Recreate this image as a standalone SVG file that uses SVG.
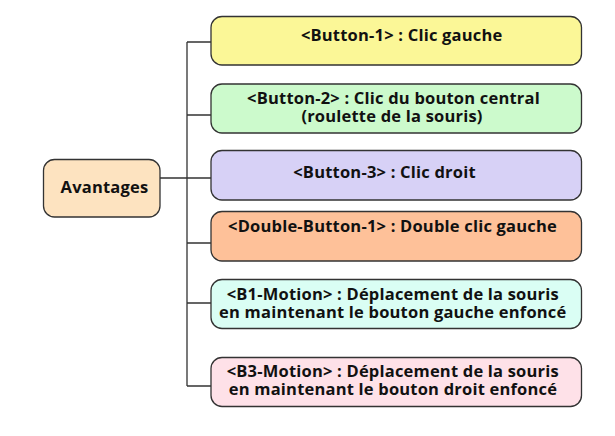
<svg xmlns="http://www.w3.org/2000/svg" width="615" height="436" viewBox="0 0 615 436">
<style>
.box{stroke:#333333;stroke-width:1.3}
.t{font-family:"Open Sans","Noto Sans","DejaVu Sans",sans-serif;font-weight:bold;font-size:16.5px;letter-spacing:0.2px;fill:#111111;text-anchor:middle}
.c{fill:none;stroke:#333333;stroke-width:1.3}
</style>
<rect width="615" height="436" fill="#ffffff"/>
<g id="connectors">
<path class="c" d="M187 42V386M187 42H211M187 115H211M160 178H211M187 243H211M187 303H211M187 386H211"/>
</g>
<g id="avantages">
<rect class="box" x="43.5" y="159.5" width="116.5" height="57.5" rx="11" fill="#FDE3C0"/>
<text class="t" x="104.5" y="192.7">Avantages</text>
</g>
<g id="button1">
<rect class="box" x="211" y="16.5" width="370.5" height="48.5" rx="11" fill="#FBF797"/>
<text class="t" x="401.7" y="41">&lt;Button-1&gt; : Clic gauche</text>
</g>
<g id="button2">
<rect class="box" x="211" y="84" width="370.5" height="49" rx="11" fill="#CCFACC"/>
<text class="t" x="393.5" y="104">&lt;Button-2&gt; : Clic du bouton central</text>
<text class="t" x="392" y="122">(roulette de la souris)</text>
</g>
<g id="button3">
<rect class="box" x="211" y="150.5" width="370.5" height="49.5" rx="11" fill="#D7D1F6"/>
<text class="t" x="384.5" y="178.3">&lt;Button-3&gt; : Clic droit</text>
</g>
<g id="double-button1">
<rect class="box" x="211" y="211.5" width="370.5" height="49.5" rx="11" fill="#FEC199"/>
<text class="t" x="392.5" y="231.7">&lt;Double-Button-1&gt; : Double clic gauche</text>
</g>
<g id="b1-motion">
<rect class="box" x="211" y="279.5" width="370.5" height="49" rx="11" fill="#DAFEF4"/>
<text class="t" x="392.8" y="299.5">&lt;B1-Motion&gt; : Déplacement de la souris</text>
<text class="t" x="392.8" y="317.5">en maintenant le bouton gauche enfoncé</text>
</g>
<g id="b3-motion">
<rect class="box" x="211" y="357.5" width="370.5" height="49" rx="11" fill="#FEE1E8"/>
<text class="t" x="392.8" y="377">&lt;B3-Motion&gt; : Déplacement de la souris</text>
<text class="t" x="393" y="395">en maintenant le bouton droit enfoncé</text>
</g>
</svg>
